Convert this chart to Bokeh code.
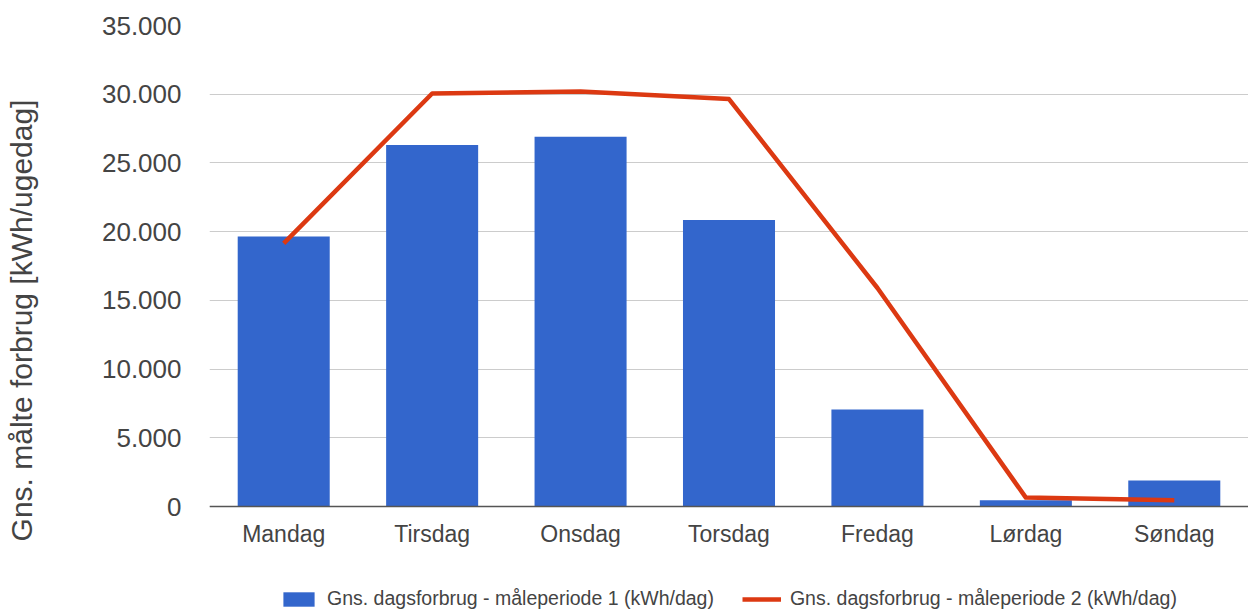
from bokeh.plotting import figure
from bokeh.models import (FactorRange, Range1d, FixedTicker, Legend, LegendItem,
                          ColumnDataSource, CategoricalAxis)
from bokeh.embed import file_html
from bokeh.resources import INLINE

days = ["Mandag", "Tirsdag", "Onsdag", "Torsdag", "Fredag", "Lørdag", "Søndag"]
period1 = [19650, 26300, 26900, 20850, 7060, 450, 1900]
period2 = [19150, 30050, 30200, 29650, 15900, 650, 450]
y_ticks = [0, 5000, 10000, 15000, 20000, 25000, 30000, 35000]
y_tick_labels = ["0", "5.000", "10.000", "15.000", "20.000", "25.000", "30.000", "35.000"]
label1 = "Gns. dagsforbrug - måleperiode 1 (kWh/dag)"
label2 = "Gns. dagsforbrug - måleperiode 2 (kWh/dag)"
y_title = "Gns. målte forbrug [kWh/ugedag]"

FONT = "Liberation Sans"

# frame runs from the top gridline down to the page bottom (room for x labels + legend)
Y_MAX = 35000
Y_MIN = -7930

src = ColumnDataSource(data=dict(day=days, p1=period1, p2=period2))

p = figure(width=1248, height=615, output_backend="svg", toolbar_location=None,
           x_range=FactorRange(*days, range_padding=0), y_range=Range1d(Y_MIN, Y_MAX),
           min_border_left=209, min_border_right=0, min_border_top=25,
           min_border_bottom=0, x_axis_location=None)
p.outline_line_color = None
p.background_fill_color = "white"
p.border_fill_color = "white"

bars = p.vbar(x="day", top="p1", width=0.62, source=src, fill_color="#3366cc",
              line_color=None)
line = p.line(x="day", y="p2", source=src, line_color="#dc3912", line_width=4.5,
              line_join="round")

p.ygrid.grid_line_color = "#cccccc"
p.ygrid.grid_line_width = 1

yax = p.yaxis[0]
yax.ticker = FixedTicker(ticks=y_ticks)
yax.bounds = (y_ticks[0], y_ticks[-1])
yax.major_label_overrides = {t: l for t, l in zip(y_ticks, y_tick_labels)}
yax.axis_line_color = None
yax.major_tick_line_color = None
yax.minor_tick_line_color = None
yax.major_tick_out = 0
yax.major_label_standoff = 28
yax.major_label_text_font = FONT
yax.major_label_text_font_size = "26px"
yax.major_label_text_color = "#444444"
yax.axis_label = y_title
yax.axis_label_text_font = FONT
yax.axis_label_text_font_size = "30px"
yax.axis_label_text_font_style = "normal"
yax.axis_label_text_color = "#444444"
yax.axis_label_standoff = 61

xax = CategoricalAxis(fixed_location=0)
xax.axis_line_color = "#555555"
xax.axis_line_width = 1.5
xax.major_tick_line_color = None
xax.minor_tick_line_color = None
xax.major_tick_out = 0
xax.major_label_standoff = 14
xax.major_label_text_font = FONT
xax.major_label_text_font_size = "23px"
xax.major_label_text_color = "#444444"
p.add_layout(xax, "below")
p.xgrid.grid_line_color = None

legend = Legend(items=[LegendItem(label=label1, renderers=[bars]),
                       LegendItem(label=label2, renderers=[line])],
                location=(70, 5), orientation="horizontal",
                glyph_width=39, glyph_height=18, label_height=18,
                label_standoff=9, padding=0, margin=0, spacing=28,
                border_line_color=None, background_fill_alpha=0,
                label_text_font=FONT, label_text_font_size="19.5px",
                label_text_color="#444444")
p.add_layout(legend, "center")

open("out.html", "w").write(file_html(p, INLINE))
